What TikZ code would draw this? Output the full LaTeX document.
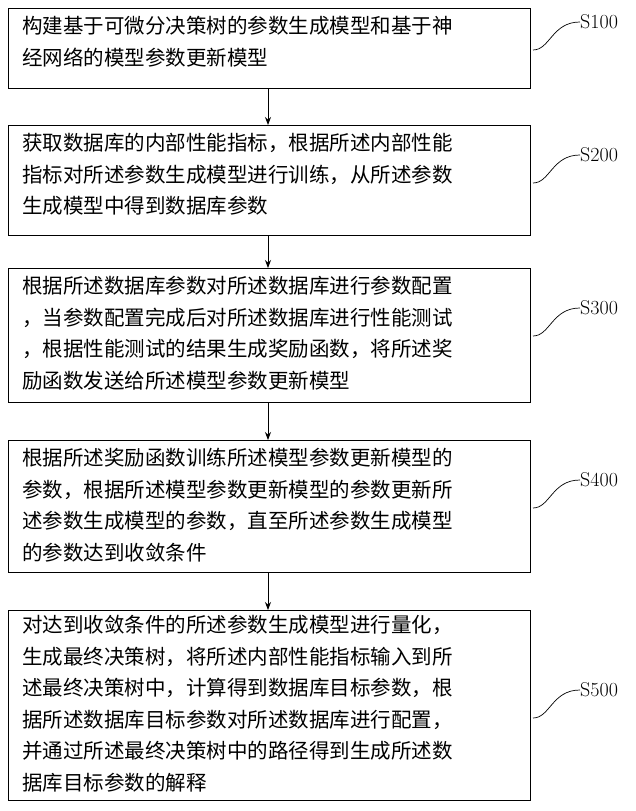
\documentclass[tikz,border=0pt]{standalone}
\usetikzlibrary{arrows.meta}
\usepackage{fontspec}
\newfontfamily\cjk{Noto Sans CJK SC}
\begin{document}
\begin{tikzpicture}[x=1pt,y=-1pt,
 txt/.style={anchor=north west,align=left,font=\cjk\fontsize{20.5}{31.5}\selectfont,inner sep=0pt},
 lab/.style={anchor=west,font=\fontsize{20}{22}\selectfont,inner sep=0pt},
 arr/.style={-{Stealth[length=8pt,width=6pt]},line width=0.8pt},
 crv/.style={line width=0.7pt}]
\useasboundingbox (0,0) rectangle (635,811);
\draw[line width=0.8pt] (8,8) rectangle (530,88);
\node[txt] (t1) at (22,16) {构建基于可微分决策树的参数生成模型和基于神\\经网络的模型参数更新模型};
\draw[line width=0.8pt] (8,125) rectangle (530,235);
\node[txt] (t2) at (22,133) {获取数据库的内部性能指标，根据所述内部性能\\指标对所述参数生成模型进行训练，从所述参数\\生成模型中得到数据库参数};
\draw[line width=0.8pt] (8,268) rectangle (530,402);
\node[txt] (t3) at (22,276) {根据所述数据库参数对所述数据库进行参数配置\\，当参数配置完成后对所述数据库进行性能测试\\，根据性能测试的结果生成奖励函数，将所述奖\\励函数发送给所述模型参数更新模型};
\draw[line width=0.8pt] (8,440) rectangle (530,572);
\node[txt] (t4) at (22,448) {根据所述奖励函数训练所述模型参数更新模型的\\参数，根据所述模型参数更新模型的参数更新所\\述参数生成模型的参数，直至所述参数生成模型\\的参数达到收敛条件};
\draw[line width=0.8pt] (8,610) rectangle (530,800);
\node[txt] (t5) at (22,615) {对达到收敛条件的所述参数生成模型进行量化，\\生成最终决策树，将所述内部性能指标输入到所\\述最终决策树中，计算得到数据库目标参数，根\\据所述数据库目标参数对所述数据库进行配置，\\并通过所述最终决策树中的路径得到生成所述数\\据库目标参数的解释};
\coordinate (a1) at (268,88); \coordinate (a1e) at (268,125);
\coordinate (a2) at (268,235); \coordinate (a2e) at (268,268);
\coordinate (a3) at (268,402); \coordinate (a3e) at (268,440);
\coordinate (a4) at (268,572); \coordinate (a4e) at (268,610);
\draw[arr] (a1)--(a1e); \draw[arr] (a2)--(a2e); \draw[arr] (a3)--(a3e); \draw[arr] (a4)--(a4e);
\node[lab] (s1) at (580,22) {S100};
\node[lab] (s2) at (580,155) {S200};
\node[lab] (s3) at (580,308) {S300};
\node[lab] (s4) at (580,480) {S400};
\node[lab] (s5) at (580,690) {S500};
\foreach \n/\y in {s1/22,s2/155,s3/308,s4/480,s5/690}{
 \coordinate (c\n) at (533,\y+28);
 \draw[crv] (c\n) .. controls (550,\y+28) and (552,\y) .. (\n.west);
}
\end{tikzpicture}
\end{document}
